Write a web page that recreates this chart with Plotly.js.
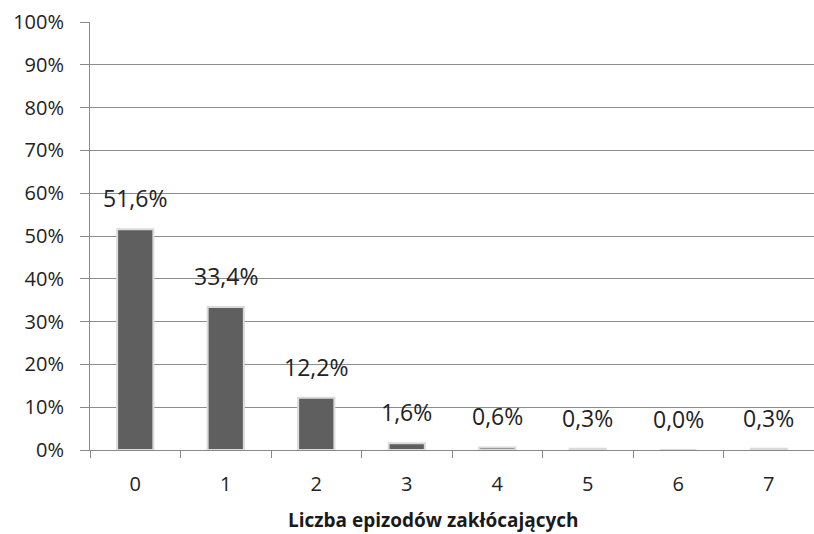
<!DOCTYPE html>
<html><head><meta charset="utf-8">
<script src="https://cdn.plot.ly/plotly-3.0.1.min.js"></script>
<style>body{margin:0;background:#fff}#c{width:814px;height:534px}</style>
</head><body><div id="c"></div>
<script>
const categories = ["0","1","2","3","4","5","6","7"];
const values = [51.6, 33.4, 12.2, 1.6, 0.6, 0.3, 0.0, 0.3];
const labels = ["51,6%","33,4%","12,2%","1,6%","0,6%","0,3%","0,0%","0,3%"];
const yTickVals = [0,10,20,30,40,50,60,70,80,90,100];
const yTickText = yTickVals.map(v => v + "%");
const xTitle = "Liczba epizodów zakłócających";

const trace = {
  type: "bar",
  x: categories,
  y: values,
  marker: {color: "#5f5f5f", line: {color: "#dadada", width: 2}},
  width: 0.4,
  hoverinfo: "none"
};
const annotations = categories.map((c, i) => ({
  x: c, y: values[i], xref: "x", yref: "y",
  text: labels[i], showarrow: false,
  yanchor: "bottom", yshift: 13,
  font: {family: "Open Sans, sans-serif", size: 23, color: "#222"}
}));
annotations.push({
  xref: "paper", yref: "paper", x: 0.475, y: 0, yshift: -70,
  xanchor: "center", yanchor: "middle", showarrow: false, borderpad: 0,
  text: "<b>" + xTitle + "</b>",
  font: {family: "Open Sans, sans-serif", size: 19, color: "#1a1a1a"}
});
const layout = {
  width: 814, height: 534,
  margin: {l: 90, r: 0, t: 22, b: 84},
  paper_bgcolor: "#fff", plot_bgcolor: "#fff",
  showlegend: false,
  font: {family: "Open Sans, sans-serif", color: "#222"},
  annotations: annotations,
  xaxis: {
    type: "category",
    tickson: "boundaries",
    ticks: "outside", ticklen: 7, tickcolor: "#888", tickwidth: 1,
    showline: true, linecolor: "#888", linewidth: 1,
    showgrid: false,
    tickfont: {size: 20, color: "#222"},
    ticklabelstandoff: 16,
    range: [-0.5, 7.5]
  },
  yaxis: {
    range: [0, 100],
    tickvals: yTickVals, ticktext: yTickText,
    ticks: "outside", ticklen: 9, tickcolor: "#888",
    showline: true, linecolor: "#888", linewidth: 1,
    showgrid: true, gridcolor: "#8c8c8c", gridwidth: 1,
    zeroline: false,
    tickfont: {size: 20, color: "#222"},
    ticklabelstandoff: 12
  }
};
Plotly.newPlot("c", [trace], layout, {displayModeBar: false, staticPlot: true});
</script></body></html>
